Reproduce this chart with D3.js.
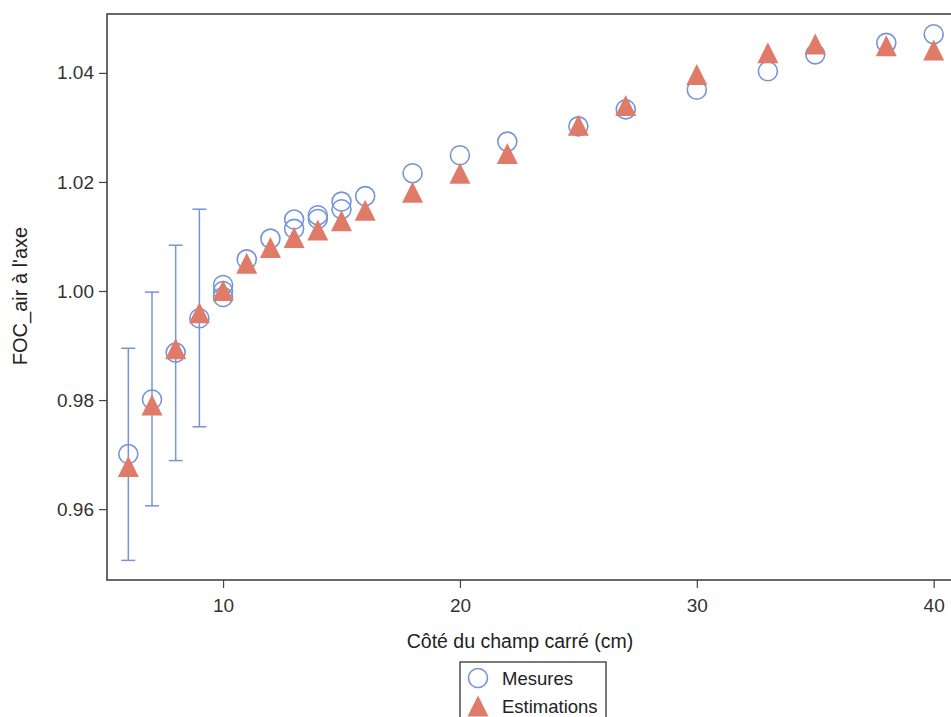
<!DOCTYPE html>
<html>
<head>
<meta charset="utf-8">
<script src="https://cdn.jsdelivr.net/npm/d3@7"></script>
<style>
  html, body { margin: 0; padding: 0; background: #fff; }
  svg { display: block; font-family: "Liberation Sans", Arial, sans-serif; }
</style>
</head>
<body>
<svg id="chart" width="951" height="717"></svg>
<script>
// ---- Data ----
const mesuresX = [6, 7, 8, 9, 10, 10, 10, 11, 12, 13, 13, 14, 14, 15, 15, 16, 18, 20, 22, 25, 27, 30, 33, 35, 38, 40];
const mesuresY = [0.9701, 0.9801, 0.9887, 0.9950, 1.0011, 1.0000, 0.9989, 1.0058, 1.0096, 1.0131, 1.0114, 1.0139, 1.0132, 1.0164, 1.0150, 1.0174, 1.0216, 1.0249, 1.0274, 1.0302, 1.0333, 1.0369, 1.0403, 1.0434, 1.0455, 1.0471];
const estimX = [6, 7, 8, 9, 10, 11, 12, 13, 14, 15, 16, 18, 20, 22, 25, 27, 30, 33, 35, 38, 40];
const estimY = [0.9678, 0.9791, 0.9894, 0.9960, 1.0001, 1.0051, 1.0080, 1.0098, 1.0112, 1.0129, 1.0148, 1.0181, 1.0216, 1.0252, 1.0304, 1.0340, 1.0397, 1.0437, 1.0453, 1.0450, 1.0442];
const errX = [6, 7, 8, 9];
const errLow = [0.9506, 0.9606, 0.9689, 0.9751];
const errHigh = [0.9895, 0.9998, 1.0084, 1.0150];
const xTicks = [10, 20, 30, 40];
const yTicks = [0.96, 0.98, 1.00, 1.02, 1.04];
const xTitle = "Côté du champ carré (cm)";
const yTitle = "FOC_air à l'axe";
const legendLabels = ["Mesures", "Estimations"];

// ---- Layout ----
const svg = d3.select("#chart");
const pLeft = 107, pTop = 14, pRight = 955, pBottom = 580;
const blue = "#7694d8";
const salmon = "#e07b6a";
const frameColor = "#444";

const x = d3.scaleLinear().domain([5.1, 40.9]).range([pLeft, pRight]);
const y = d3.scaleLinear().domain([0.947, 1.0508]).range([pBottom, pTop]);

// Axes
const xAxis = svg.append("g")
  .attr("transform", `translate(0,${pBottom})`)
  .call(d3.axisBottom(x).tickValues(xTicks).tickFormat(d3.format("d")).tickSize(8).tickPadding(11));
const yAxis = svg.append("g")
  .attr("transform", `translate(${pLeft},0)`)
  .call(d3.axisLeft(y).tickValues(yTicks).tickFormat(d3.format(".2f")).tickSize(8).tickPadding(5));
[xAxis, yAxis].forEach(g => {
  g.select(".domain").remove();
  g.selectAll(".tick line").attr("stroke", frameColor).attr("stroke-width", 1.2);
  g.selectAll(".tick text").attr("fill", "#333").style("font-size", "19px");
});

// Frame
svg.append("rect")
  .attr("x", pLeft).attr("y", pTop)
  .attr("width", pRight - pLeft).attr("height", pBottom - pTop)
  .attr("fill", "none").attr("stroke", frameColor).attr("stroke-width", 1.6);

// Clip
svg.append("clipPath").attr("id", "clip").append("rect")
  .attr("x", pLeft).attr("y", pTop).attr("width", pRight - pLeft).attr("height", pBottom - pTop);
const plot = svg.append("g").attr("clip-path", "url(#clip)");

// Error bars
const capW = 7;
const errData = errX.map((d, i) => ({ x: d, lo: errLow[i], hi: errHigh[i] }));
const eb = plot.append("g").attr("stroke", blue).attr("stroke-width", 1.5).attr("fill", "none");
eb.selectAll("line.v").data(errData).join("line").attr("class", "v")
  .attr("x1", d => x(d.x)).attr("x2", d => x(d.x))
  .attr("y1", d => y(d.lo)).attr("y2", d => y(d.hi));
eb.selectAll("line.lo").data(errData).join("line").attr("class", "lo")
  .attr("x1", d => x(d.x) - capW).attr("x2", d => x(d.x) + capW)
  .attr("y1", d => y(d.lo)).attr("y2", d => y(d.lo));
eb.selectAll("line.hi").data(errData).join("line").attr("class", "hi")
  .attr("x1", d => x(d.x) - capW).attr("x2", d => x(d.x) + capW)
  .attr("y1", d => y(d.hi)).attr("y2", d => y(d.hi));

// Circles (Mesures)
const mData = mesuresX.map((d, i) => ({ x: d, y: mesuresY[i] }));
plot.append("g").selectAll("circle").data(mData).join("circle")
  .attr("cx", d => x(d.x)).attr("cy", d => y(d.y)).attr("r", 9.5)
  .attr("fill", "none").attr("stroke", blue).attr("stroke-width", 1.6);

// Triangles (Estimations)
const tri = (cx, cy, h) => `M${cx},${cy - h / 2}L${cx + h / 2},${cy + h / 2}L${cx - h / 2},${cy + h / 2}Z`;
const eData = estimX.map((d, i) => ({ x: d, y: estimY[i] }));
plot.append("g").selectAll("path").data(eData).join("path")
  .attr("d", d => tri(x(d.x), y(d.y), 21))
  .attr("fill", salmon);

// Axis titles
svg.append("text").attr("x", 520).attr("y", 648).attr("text-anchor", "middle")
  .attr("fill", "#222").style("font-size", "19.5px").text(xTitle);
svg.append("text").attr("transform", `translate(27,296) rotate(-90)`).attr("text-anchor", "middle")
  .attr("fill", "#222").style("font-size", "20px").text(yTitle);

// Legend
const lg = svg.append("g");
lg.append("rect").attr("x", 460).attr("y", 662).attr("width", 146).attr("height", 70)
  .attr("fill", "#fff").attr("stroke", "#222").attr("stroke-width", 1.2);
lg.append("circle").attr("cx", 478).attr("cy", 678).attr("r", 9.5)
  .attr("fill", "none").attr("stroke", blue).attr("stroke-width", 1.6);
lg.append("path").attr("d", tri(478, 706, 21)).attr("fill", salmon);
lg.append("text").attr("x", 502).attr("y", 685).attr("fill", "#222").style("font-size", "18.5px").text(legendLabels[0]);
lg.append("text").attr("x", 502).attr("y", 713).attr("fill", "#222").style("font-size", "18.5px").text(legendLabels[1]);
</script>
</body>
</html>
